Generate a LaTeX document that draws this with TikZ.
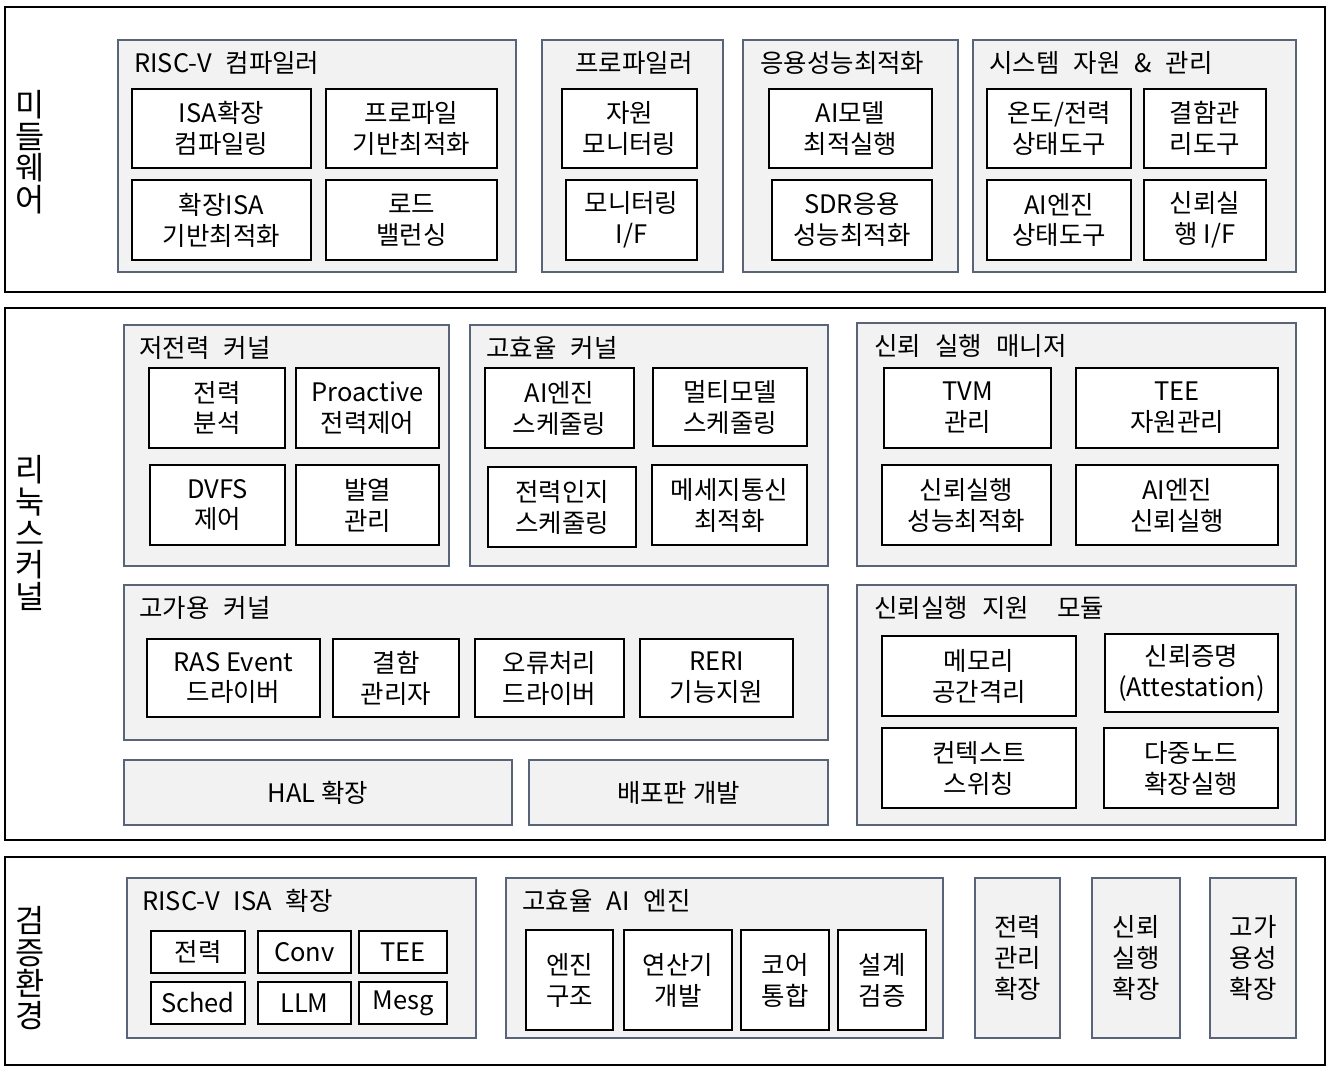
\documentclass[tikz,border=0pt]{standalone}
\usepackage{fontspec}
\usepackage{tikz}
\usepackage{xcolor}
\setmainfont{Noto Sans CJK KR}

\definecolor{groupfill}{HTML}{F2F2F2}
\definecolor{groupline}{HTML}{5A6478}
\newcommand{\boxfont}{\fontsize{14.5}{17.6}\selectfont}
\newcommand{\titlefont}{\fontsize{14.5}{17.6}\selectfont\spaceskip=0.55em}
\newcommand{\sidefont}{\fontsize{18}{18}\selectfont}

\begin{document}
\begin{tikzpicture}[x=0.02cm,y=-0.02cm,
  layerbox/.style={draw=black,line width=1.2pt,fill=white},
  groupbox/.style={draw=groupline,line width=0.9pt,fill=groupfill},
  itembox/.style={draw=black,line width=1pt,fill=white},
  boxtext/.style={align=center,inner sep=0pt,font=\boxfont},
  titletext/.style={anchor=west,inner sep=0pt,font=\titlefont},
  sidetext/.style={align=center,inner sep=0pt,font=\sidefont}]
\useasboundingbox (0,0) rectangle (1330,1073);

% middleware layer
\draw[layerbox] (5,7) rectangle (1325,292);
\node[sidetext] (mwlabel) at (30,152) {미\\들\\웨\\어};
\draw[groupbox] (118,40) rectangle (516,272);
\node[titletext] (rvcomp) at (134,63) {RISC-V 컴파일러};
\draw[itembox] (132,89) rectangle (311,168);
\node[boxtext] (isaext) at (221.5,128.5) {ISA확장\\컴파일링};
\draw[itembox] (326,89) rectangle (497,168);
\node[boxtext] (profopt) at (411.5,128.5) {프로파일\\기반최적화};
\draw[itembox] (132,180) rectangle (311,260);
\node[boxtext] (extisa) at (221.5,220) {확장ISA\\기반최적화};
\draw[itembox] (326,180) rectangle (497,260);
\node[boxtext] (loadbal) at (411.5,220) {로드\\밸런싱};
\draw[groupbox] (542,40) rectangle (723,272);
\node[titletext] (prof) at (575,63) {프로파일러};
\draw[itembox] (562,89) rectangle (697,168);
\node[boxtext] (resmon) at (629.5,128.5) {자원\\모니터링};
\draw[itembox] (566,180) rectangle (697,260);
\node[boxtext] (monif) at (631.5,220) {모니터링\\I/F};
\draw[groupbox] (743,40) rectangle (958,272);
\node[titletext] (appopt) at (760,63) {응용성능최적화};
\draw[itembox] (769,89) rectangle (932,168);
\node[boxtext] (aimodel) at (850.5,128.5) {AI모델\\최적실행};
\draw[itembox] (772,180) rectangle (932,260);
\node[boxtext] (sdrapp) at (852,220) {SDR응용\\성능최적화};
\draw[groupbox] (973,40) rectangle (1296,272);
\node[titletext] (sysres) at (989,63) {시스템 자원 \& 관리};
\draw[itembox] (987,89) rectangle (1131,168);
\node[boxtext] (tempwr) at (1059,128.5) {온도/전력\\상태도구};
\draw[itembox] (1144,89) rectangle (1266,168);
\node[boxtext] (faultmgr) at (1205,128.5) {결함관\\리도구};
\draw[itembox] (987,180) rectangle (1131,260);
\node[boxtext] (aistate) at (1059,220) {AI엔진\\상태도구};
\draw[itembox] (1144,180) rectangle (1266,260);
\node[boxtext] (trustif) at (1205,220) {신뢰실\\행 I/F};

% linux kernel layer
\draw[layerbox] (5,308) rectangle (1325,840);
\node[sidetext] (knlabel) at (30,533) {리\\눅\\스\\커\\널};
\draw[groupbox] (124,325) rectangle (449,566);
\node[titletext] (lpk) at (139,348) {저전력 커널};
\draw[itembox] (149,368) rectangle (285,448);
\node[boxtext] (pwran) at (217,408) {전력\\분석};
\draw[itembox] (296,368) rectangle (439,448);
\node[boxtext] (proact) at (367.5,408) {Proactive\\전력제어};
\draw[itembox] (150,465) rectangle (285,545);
\node[boxtext] (dvfs) at (217.5,505) {DVFS\\제어};
\draw[itembox] (296,465) rectangle (439,545);
\node[boxtext] (thermal) at (367.5,505) {발열\\관리};
\draw[groupbox] (470,325) rectangle (828,566);
\node[titletext] (hek) at (486,348) {고효율 커널};
\draw[itembox] (485,368) rectangle (634,448);
\node[boxtext] (aisched) at (559.5,408) {AI엔진\\스케줄링};
\draw[itembox] (653,368) rectangle (807,446);
\node[boxtext] (mmsched) at (730,407) {멀티모델\\스케줄링};
\draw[itembox] (488,467) rectangle (636,547);
\node[boxtext] (pwsched) at (562,507) {전력인지\\스케줄링};
\draw[itembox] (652,465) rectangle (807,545);
\node[boxtext] (msgopt) at (729.5,505) {메세지통신\\최적화};
\draw[groupbox] (857,323) rectangle (1296,566);
\node[titletext] (tem) at (874,346) {신뢰 실행 매니저};
\draw[itembox] (884,368) rectangle (1051,448);
\node[boxtext] (tvm) at (967.5,408) {TVM\\관리};
\draw[itembox] (1076,368) rectangle (1278,448);
\node[boxtext] (teeres) at (1177,408) {TEE\\자원관리};
\draw[itembox] (882,465) rectangle (1051,545);
\node[boxtext] (trustperf) at (966.5,505) {신뢰실행\\성능최적화};
\draw[itembox] (1076,465) rectangle (1278,545);
\node[boxtext] (aitrust) at (1177,505) {AI엔진\\신뢰실행};
\draw[groupbox] (124,585) rectangle (828,740);
\node[titletext] (hak) at (139,608) {고가용 커널};
\draw[itembox] (147,639) rectangle (320,717);
\node[boxtext] (rasdrv) at (233.5,678) {RAS Event\\드라이버};
\draw[itembox] (333,639) rectangle (459,717);
\node[boxtext] (faultmgrk) at (396,678) {결함\\관리자};
\draw[itembox] (475,639) rectangle (624,717);
\node[boxtext] (errdrv) at (549.5,678) {오류처리\\드라이버};
\draw[itembox] (640,639) rectangle (793,717);
\node[boxtext] (reri) at (716.5,678) {RERI\\기능지원};
\draw[groupbox] (124,760) rectangle (512,825);
\node[boxtext] (hal) at (318,792.5) {HAL 확장};
\draw[groupbox] (529,760) rectangle (828,825);
\node[boxtext] (distro) at (678.5,792.5) {배포판 개발};
\draw[groupbox] (857,585) rectangle (1296,825);
\node[titletext] (tsm) at (874,608) {신뢰실행 지원\ \ 모듈};
\draw[itembox] (882,636) rectangle (1076,716);
\node[boxtext] (memiso) at (979,676) {메모리\\공간격리};
\draw[itembox] (1105,634) rectangle (1278,712);
\node[boxtext] (attest) at (1191.5,673) {신뢰증명\\(Attestation)};
\draw[itembox] (882,728) rectangle (1076,808);
\node[boxtext] (ctxsw) at (979,768) {컨텍스트\\스위칭};
\draw[itembox] (1104,728) rectangle (1278,808);
\node[boxtext] (multinode) at (1191,768) {다중노드\\확장실행};

% verification layer
\draw[layerbox] (5,857) rectangle (1325,1065);
\node[sidetext] (velabel) at (30,968) {검\\증\\환\\경};
\draw[groupbox] (127,878) rectangle (476,1038);
\node[titletext] (rvisa) at (142,901) {RISC-V ISA 확장};
\draw[itembox] (151,931) rectangle (245,973);
\node[boxtext] (isapwr) at (198,952) {전력};
\draw[itembox] (258,931) rectangle (351,973);
\node[boxtext] (isaconv) at (304.5,952) {Conv};
\draw[itembox] (359,931) rectangle (447,973);
\node[boxtext] (isatee) at (403,952) {TEE};
\draw[itembox] (151,982) rectangle (245,1024);
\node[boxtext] (isasched) at (198,1003) {Sched};
\draw[itembox] (258,982) rectangle (351,1024);
\node[boxtext] (isallm) at (304.5,1003) {LLM};
\draw[itembox] (359,982) rectangle (447,1024);
\node[boxtext] (isamesg) at (403,1003) {Mesg};
\draw[groupbox] (506,878) rectangle (943,1038);
\node[titletext] (heai) at (522,901) {고효율 AI 엔진};
\draw[itembox] (526,930) rectangle (613,1030);
\node[boxtext] (engarch) at (569.5,980) {엔진\\구조};
\draw[itembox] (624,930) rectangle (732,1030);
\node[boxtext] (aludev) at (678,980) {연산기\\개발};
\draw[itembox] (741,930) rectangle (829,1030);
\node[boxtext] (coreint) at (785,980) {코어\\통합};
\draw[itembox] (838,930) rectangle (926,1030);
\node[boxtext] (designver) at (882,980) {설계\\검증};
\draw[groupbox] (975,878) rectangle (1060,1038);
\node[boxtext] (pwrext) at (1017.5,958) {전력\\관리\\확장};
\draw[groupbox] (1092,878) rectangle (1180,1038);
\node[boxtext] (trustext) at (1136,958) {신뢰\\실행\\확장};
\draw[groupbox] (1210,878) rectangle (1296,1038);
\node[boxtext] (haext) at (1253,958) {고가\\용성\\확장};
\end{tikzpicture}
\end{document}
